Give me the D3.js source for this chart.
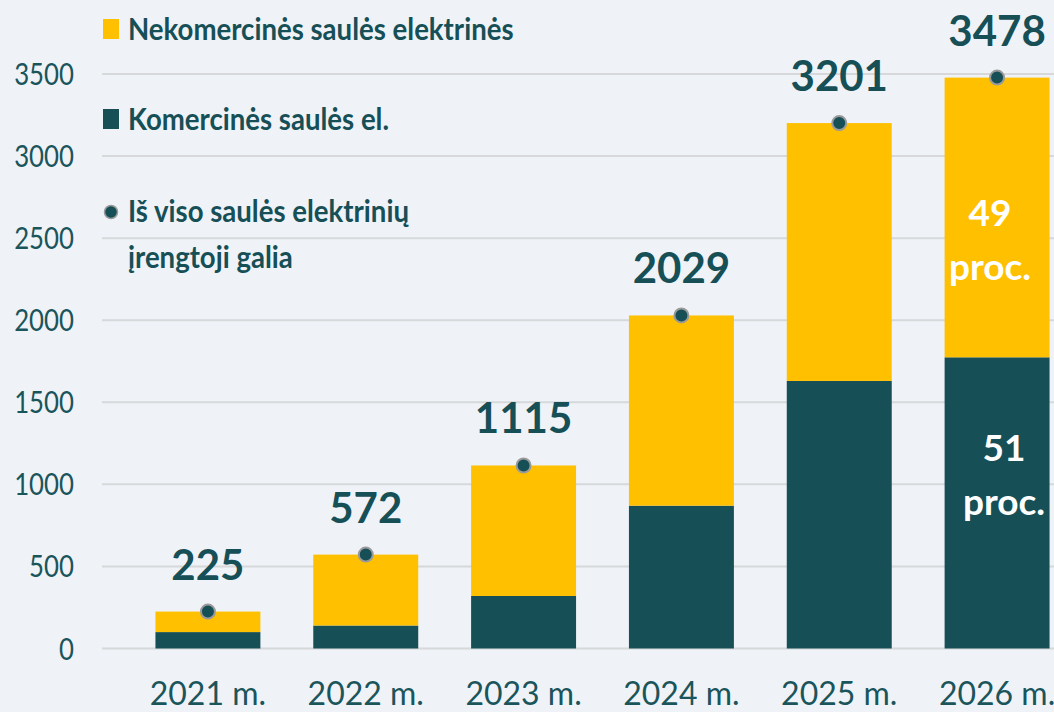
<!DOCTYPE html>
<html>
<head>
<meta charset="utf-8">
<script src="https://cdn.jsdelivr.net/npm/d3@7"></script>
<style>
  html, body { margin: 0; padding: 0; background: #eff3f7; }
  svg { display: block; font-family: Lato, "Open Sans", sans-serif; }
</style>
</head>
<body>
<div id="chart"></div>
<script>
// data
const years = ['2021 m.', '2022 m.', '2023 m.', '2024 m.', '2025 m.', '2026 m.'];
const commercial = [100, 140, 320, 870, 1630, 1774];
const totals = [225, 572, 1115, 2029, 3201, 3478];
const nonCommercial = totals.map((t, i) => t - commercial[i]);
const yTicks = [0, 500, 1000, 1500, 2000, 2500, 3000, 3500];
const legendItems = [
  { label: ['Nekomercinės saulės elektrinės'], kind: 'square', color: '#ffc000' },
  { label: ['Komercinės saulės el.'], kind: 'square', color: '#174f57' },
  { label: ['Iš viso saulės elektrinių', 'įrengtoji galia'], kind: 'dot', color: '#174f57' }
];
const shareLabels = [
  { year: '2026 m.', part: 'top', lines: ['49', 'proc.'] },
  { year: '2026 m.', part: 'bottom', lines: ['51', 'proc.'] }
];

const width = 1054, height = 712;
const teal = '#174f57', yellow = '#ffc000', textCol = '#1b555c';

const svg = d3.select('#chart').append('svg')
  .attr('width', width)
  .attr('height', height);

const x = d3.scaleBand()
  .domain(years)
  .range([129, 1076])
  .paddingInner(0.335)
  .paddingOuter(0.1675);

const y = d3.scaleLinear()
  .domain([0, 3500])
  .range([648.5, 74]);

// gridlines
svg.append('g')
  .selectAll('line')
  .data(yTicks)
  .join('line')
  .attr('x1', 102).attr('x2', width)
  .attr('y1', d => y(d)).attr('y2', d => y(d))
  .attr('stroke', '#d6d8da')
  .attr('stroke-width', 2);

// y axis labels (narrowed a bit, the original font is condensed)
svg.append('g')
  .selectAll('text')
  .data(yTicks)
  .join('text')
  .attr('transform', d => `translate(74,${y(d) + 11}) scale(0.86,1)`)
  .attr('text-anchor', 'end')
  .attr('fill', textCol)
  .style('font-size', '30px')
  .text(d => d);

// x axis labels
svg.append('g')
  .selectAll('text')
  .data(years)
  .join('text')
  .attr('x', d => x(d) + x.bandwidth() / 2)
  .attr('y', 705)
  .attr('text-anchor', 'middle')
  .attr('fill', textCol)
  .style('font-size', '32px')
  .text(d => d);

// stacked bars
const rows = years.map((yr, i) => ({ yr, com: commercial[i], non: nonCommercial[i], total: totals[i] }));

svg.append('g')
  .selectAll('rect')
  .data(rows)
  .join('rect')
  .attr('x', d => x(d.yr))
  .attr('width', x.bandwidth())
  .attr('y', d => y(d.com))
  .attr('height', d => y(0) - y(d.com))
  .attr('fill', teal);

svg.append('g')
  .selectAll('rect')
  .data(rows)
  .join('rect')
  .attr('x', d => x(d.yr))
  .attr('width', x.bandwidth())
  .attr('y', d => y(d.com + d.non))
  .attr('height', d => y(d.com) - y(d.com + d.non))
  .attr('fill', yellow);

// total dots
svg.append('g')
  .selectAll('circle')
  .data(rows)
  .join('circle')
  .attr('cx', d => x(d.yr) + x.bandwidth() / 2)
  .attr('cy', d => y(d.total))
  .attr('r', 7)
  .attr('fill', teal)
  .attr('stroke', '#9a9a9a')
  .attr('stroke-width', 2);

// total labels
svg.append('g')
  .selectAll('text')
  .data(rows)
  .join('text')
  .attr('x', d => x(d.yr) + x.bandwidth() / 2)
  .attr('y', d => y(d.total) - 32)
  .attr('text-anchor', 'middle')
  .attr('fill', teal)
  .style('font-size', '42px')
  .style('font-weight', 'bold')
  .text(d => d.total);

// share labels inside the last bar
shareLabels.forEach(s => {
  const cx = x(s.year) + x.bandwidth() / 2 + (s.part === 'top' ? -7 : 7);
  const top = s.part === 'top' ? 226 : 461;
  const t = svg.append('text')
    .attr('text-anchor', 'middle')
    .attr('fill', '#ffffff')
    .style('font-size', '37px')
    .style('font-weight', 'bold');
  s.lines.forEach((line, j) => {
    t.append('tspan').attr('x', cx).attr('y', top + j * 54).text(line);
  });
});

// legend
const legendY = [40, 130, 222];
legendItems.forEach((item, i) => {
  const g = svg.append('g');
  const base = legendY[i];
  if (item.kind === 'square') {
    g.append('rect')
      .attr('x', 103).attr('y', base - 21)
      .attr('width', 16).attr('height', 20)
      .attr('fill', item.color);
  } else {
    g.append('circle')
      .attr('cx', 111).attr('cy', base - 10)
      .attr('r', 6.5)
      .attr('fill', item.color)
      .attr('stroke', '#9a9a9a')
      .attr('stroke-width', 1.5);
  }
  item.label.forEach((line, j) => {
    g.append('text')
      .attr('transform', `translate(128,${base + j * 46}) scale(0.89,1)`)
      .attr('fill', teal)
      .style('font-size', '31px')
      .style('font-weight', 'bold')
      .text(line);
  });
});
</script>
</body>
</html>
